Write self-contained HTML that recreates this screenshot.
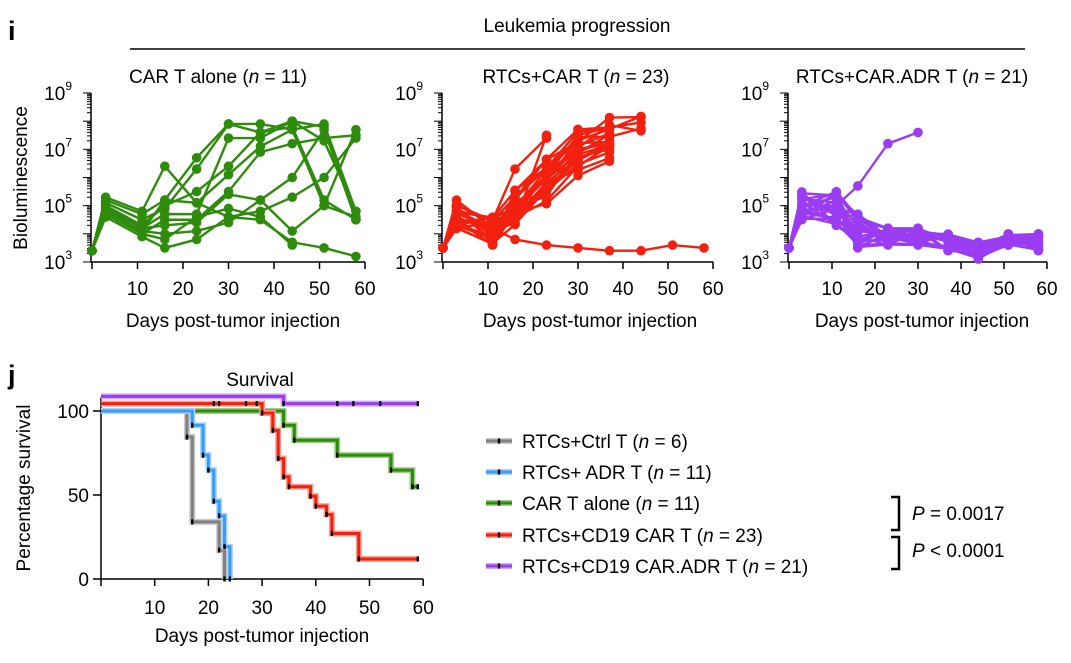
<!DOCTYPE html>
<html><head><meta charset="utf-8">
<style>
body{margin:0;background:#fff;}
svg{display:block;font-family:"Liberation Sans",Arial,sans-serif;}
</style></head>
<body>
<svg id="s" width="1071" height="663" viewBox="0 0 1071 663" xmlns="http://www.w3.org/2000/svg">
<text x="8" y="40" font-size="27" font-weight="bold">i</text>
<text x="8" y="384" font-size="27" font-weight="bold">j</text>
<text x="577" y="32" font-size="19" text-anchor="middle">Leukemia progression</text>
<line x1="130" y1="49" x2="1025" y2="49" stroke="#000" stroke-width="1.5"/>
<text x="218" y="83" font-size="19" text-anchor="middle">CAR T alone (<tspan font-style="italic">n</tspan> = 11)</text>
<text x="576" y="83" font-size="19" text-anchor="middle">RTCs+CAR T (<tspan font-style="italic">n</tspan> = 23)</text>
<text x="912" y="83" font-size="19" text-anchor="middle">RTCs+CAR.ADR T (<tspan font-style="italic">n</tspan> = 21)</text>
<text transform="translate(27,178) rotate(-90)" font-size="19" text-anchor="middle">Bioluminescence</text>
<text x="233" y="327" font-size="19" text-anchor="middle">Days post-tumor injection</text>
<text x="590" y="327" font-size="19" text-anchor="middle">Days post-tumor injection</text>
<text x="922" y="327" font-size="19" text-anchor="middle">Days post-tumor injection</text>
<text x="260" y="386" font-size="19" text-anchor="middle">Survival</text>
<text transform="translate(30,488) rotate(-90)" font-size="19" text-anchor="middle">Percentage survival</text>
<text x="262" y="642" font-size="19" text-anchor="middle">Days post-tumor injection</text>
<g id="g"></g>
</svg>
<script>
var g=document.getElementById('g'),h='';
function L(x1,y1,x2,y2,c,w){h+='<line x1="'+x1+'" y1="'+y1+'" x2="'+x2+'" y2="'+y2+'" stroke="'+(c||'#000')+'" stroke-width="'+(w||1.5)+'"/>';}
function T(x,y,t,a,fs){h+='<text x="'+x+'" y="'+y+'" font-size="'+(fs||19)+'" text-anchor="'+(a||'middle')+'">'+t+'</text>';}
var days=[0,3,11,16,23,30,37,44,51,58];
function panel(x0,sc,col,data){
 var top=93,bot=262,dec=(bot-top)/6;
 var X=function(d){return x0+d*sc},Y=function(v){return bot-(v-3)*dec};
 L(x0-1,top,x0-1,bot);L(x0-1,bot,X(60),bot);
 for(var d=0;d<=60;d+=10){L(X(d),bot,X(d),bot+7);if(d)T(X(d),295,d);}
 for(var e=3;e<9;e++){for(var k=1;k<10;k++){var yy=Y(e+Math.log10(k));L(x0-(k==1?9:5),yy,x0-1,yy,'#000',1);}}
 L(x0-9,top,x0-1,top,'#000',1);
 [3,5,7,9].forEach(function(e){h+='<text x="'+(x0-20)+'" y="'+(Y(e)+7)+'" font-size="19" text-anchor="end">10<tspan font-size="12" dy="-10">'+e+'</tspan></text>';});
 data.forEach(function(r){var pts=[];r.forEach(function(v,i){if(v!=null)pts.push([X(days[i]),Y(v)]);});
  h+='<polyline fill="none" stroke="'+col+'" stroke-width="2.4" points="'+pts.map(function(p){return p.join(',')}).join(' ')+'"/>';
  pts.forEach(function(p){h+='<circle cx="'+p[0]+'" cy="'+p[1]+'" r="4.8" fill="'+col+'"/>';});});
}
var gr=[[3.4,5.3,4.8,6.4,5.1,4.6,4.8,5.3,6.0,7.4],
[3.4,5.2,4.7,5.2,6.7,7.9,7.9,7.7,7.9,4.8],
[3.4,5.1,4.5,4.9,6.3,7.9,7.6,8.0,7.8,4.5],
[3.4,5.0,4.3,5.0,5.5,6.4,7.6,7.8,5.2,4.5],
[3.4,4.9,4.2,4.7,4.7,7.4,7.4,8.0,7.3,4.8],
[3.4,4.8,4.1,5.2,5.1,6.1,7.1,7.7,5.0,4.6],
[3.4,4.7,4.0,4.5,4.5,5.5,6.9,7.2,7.4,7.5],
[3.4,5.0,4.2,4.3,4.4,5.4,5.2,4.1,5.0,7.7],
[3.4,4.8,4.1,4.0,4.1,4.4,5.2,6.0,7.7,4.5],
[3.4,4.6,3.9,3.5,3.8,4.6,4.5,3.7,3.5,3.2],
[3.4,4.9,4.0,3.8,4.6,4.9,4.6,3.6,null,null]];
var rd=[];
for(var i=0;i<22;i++){var f=i/21;var r=[3.5,4.6+0.7*Math.sin(i*1.7)*0.6,4.1+0.5*Math.sin(i*2.3),4.4+0.9*f+0.3*Math.sin(i),5.2+1.3*f+0.3*Math.cos(i*1.3),6.2+1.4*f+0.3*Math.sin(i*2.1),6.7+1.2*f+0.3*Math.cos(i*1.9)];
 if(i>16)r.push(7.2+0.8*f+0.2*Math.sin(i));r.push(null);rd.push(r);}
rd[0][4]=7.5;rd[0][5]=null;rd[0].length=5;
rd[1][3]=6.3;rd[1][4]=7.4;rd[1][5]=null;rd[1][6]=null;
rd.push([3.5,5.2,4.2,3.8,3.6,3.5,3.4,3.4,3.6,3.5]);
var pu=[];for(var i=0;i<20;i++){var f=i/19;pu.push([3.5,4.5+0.9*f+0.2*Math.sin(i*3),4.6+0.6*Math.sin(i*1.9)+0.3,3.9+0.6*Math.cos(i*2.2)+0.2,3.9+0.3*Math.sin(i*1.3),3.9+0.3*Math.cos(i*1.7),3.7+0.3*Math.sin(i*2.7),3.4+0.3*Math.cos(i*1.1),3.8+0.2*Math.sin(i*2),3.7+0.3*Math.cos(i*2.4)]);}
pu.push([3.5,5.0,5.0,5.7,7.2,7.6,null,null,null,null]);
panel(92,4.55,'#2e8b0c',gr);
panel(443,4.5,'#f2200f',rd);
panel(789,4.3,'#9a3cf2',pu);
var sx0=101,ss=5.37,Y0=579,ys=1.68;
var SX=function(d){return sx0+d*ss},SY=function(p){return Y0-p*ys};
L(sx0,SY(108),sx0,Y0);L(sx0,Y0,SX(60),Y0);
for(var d=0;d<=60;d+=10){L(SX(d),Y0,SX(d),Y0+7);if(d)T(SX(d),614,d);}
[0,50,100].forEach(function(p){L(sx0-8,SY(p),sx0,SY(p));T(sx0-12,SY(p)+7,p,'end');});
function curve(col,halo,steps,end,ticks){var d='M'+SX(0)+','+SY(steps[0][1]);
 for(var i=1;i<steps.length;i++){d+=' H'+SX(steps[i][0])+' V'+SY(steps[i][1]);}d+=' H'+SX(end);
 h+='<path d="'+d+'" fill="none" stroke="'+halo+'" stroke-width="6"/>';
 h+='<path d="'+d+'" fill="none" stroke="'+col+'" stroke-width="3"/>';
 (ticks||[]).forEach(function(t){h+='<rect x="'+(SX(t[0])-1.2)+'" y="'+(SY(t[1])-2.5)+'" width="2.4" height="5" fill="#000"/>';});
 steps.slice(1).forEach(function(s){h+='<rect x="'+(SX(s[0])-1.2)+'" y="'+(SY(s[1])-2.5)+'" width="2.4" height="5" fill="#000"/>';});}
curve('#2e8b0c','#9fd08a',[[0,100],[34,91.5],[36,82.6],[44,73.7],[54,64.8],[58,54.9]],59,[[59,54.9]]);
curve('#808080','#c8c8c8',[[0,100],[16,84.5],[17,34],[22,17.2],[23,0]],23);
curve('#3a9cf5','#a8d4fb',[[0,100],[17,91.5],[19,73.7],[20,64.8],[21,46.3],[22,37.6],[23,19.2],[24,0]],24);
curve('#f2200f','#f9a090',[[0,104.4],[30,98.8],[32,88.5],[33,71.7],[34,60.8],[35,54.9],[39,49.3],[40,43.4],[42,38.4],[43,27.1],[48,11.9]],59,[[21,104.4],[22,104.4],[27,104.4],[29,104.4],[59,11.9]]);
curve('#9a3cf2','#cfa6fa',[[0,108.7],[34,104.4]],59,[[44,104.4],[47,104.4],[52,104.4],[59,104.4]]);
var lg=[['#808080','#c8c8c8','RTCs+Ctrl T (<tspan font-style="italic">n</tspan> = 6)',441],
['#3a9cf5','#a8d4fb','RTCs+ ADR T (<tspan font-style="italic">n</tspan> = 11)',472],
['#2e8b0c','#9fd08a','CAR T alone (<tspan font-style="italic">n</tspan> = 11)',503],
['#f2200f','#f9a090','RTCs+CD19 CAR T (<tspan font-style="italic">n</tspan> = 23)',535],
['#9a3cf2','#cfa6fa','RTCs+CD19 CAR.ADR T (<tspan font-style="italic">n</tspan> = 21)',566]];
lg.forEach(function(l){L(486,l[3],512,l[3],l[1],6);L(486,l[3],512,l[3],l[0],3);h+='<rect x="497.8" y="'+(l[3]-2.5)+'" width="2.4" height="5" fill="#000"/>';
 h+='<text x="522" y="'+(l[3]+7)+'" font-size="19">'+l[2]+'</text>';});
h+='<path d="M891,497 H899 V530 H891 M891,537 H899 V569 H891" fill="none" stroke="#000" stroke-width="2.5"/>';
h+='<text x="912" y="520" font-size="19"><tspan font-style="italic">P</tspan> = 0.0017</text>';
h+='<text x="912" y="557" font-size="19"><tspan font-style="italic">P</tspan> &lt; 0.0001</text>';
g.innerHTML=h;
</script>
</body></html>
